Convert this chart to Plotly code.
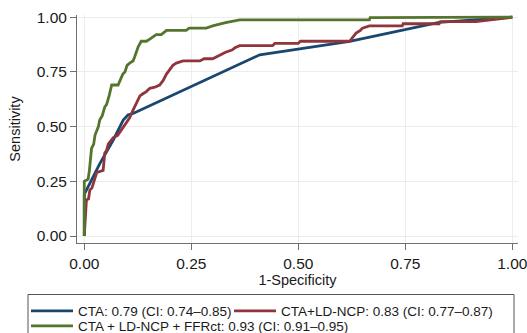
import plotly.graph_objects as go

# ---- data ----
cta_fpr = [0, 0, 0.036, 0.068, 0.091, 0.102, 0.114, 0.41, 0.62, 0.829, 1.0]
cta_tpr = [0, 0.19, 0.33, 0.44, 0.53, 0.553, 0.56, 0.828, 0.89, 0.976, 1.0]

ldncp_fpr = [0, 0.004, 0.005, 0.010, 0.013, 0.018, 0.021, 0.025, 0.029, 0.044, 0.046, 0.048,
             0.052, 0.056, 0.060, 0.068, 0.078, 0.087, 0.092, 0.099, 0.106, 0.114, 0.120,
             0.126, 0.130, 0.137, 0.145, 0.153, 0.165, 0.176, 0.184, 0.192, 0.200, 0.207,
             0.215, 0.231, 0.27, 0.28, 0.30, 0.31, 0.33, 0.345, 0.352, 0.363, 0.44, 0.445,
             0.50, 0.505, 0.62, 0.628, 0.635, 0.645, 0.65, 0.666, 0.743, 0.745, 0.829, 0.832,
             0.915, 1.0]
ldncp_tpr = [0, 0.12, 0.165, 0.17, 0.21, 0.22, 0.24, 0.26, 0.29, 0.30, 0.34, 0.38,
             0.39, 0.42, 0.43, 0.45, 0.46, 0.485, 0.50, 0.515, 0.54, 0.575, 0.60,
             0.62, 0.64, 0.65, 0.66, 0.675, 0.68, 0.69, 0.71, 0.74, 0.76, 0.78,
             0.79, 0.80, 0.80, 0.81, 0.81, 0.82, 0.84, 0.85, 0.86, 0.87, 0.87, 0.88,
             0.88, 0.89, 0.89, 0.91, 0.927, 0.94, 0.95, 0.96, 0.96, 0.97, 0.97, 0.98,
             0.98, 1.0]

ffr_fpr = [0, 0, 0.009, 0.012, 0.017, 0.022, 0.025, 0.029, 0.033, 0.036, 0.042, 0.048,
           0.052, 0.058, 0.064, 0.079, 0.083, 0.090, 0.095, 0.100, 0.106, 0.114, 0.118,
           0.126, 0.133, 0.145, 0.153, 0.160, 0.168, 0.180, 0.192, 0.238, 0.245, 0.285,
           0.30, 0.33, 0.345, 0.363, 0.666, 0.668, 1.0]
ffr_tpr = [0, 0.25, 0.26, 0.30, 0.40, 0.42, 0.46, 0.48, 0.50, 0.53, 0.55, 0.59,
           0.60, 0.64, 0.69, 0.69, 0.71, 0.74, 0.75, 0.78, 0.79, 0.80, 0.82,
           0.865, 0.89, 0.89, 0.90, 0.91, 0.92, 0.92, 0.94, 0.94, 0.95, 0.95,
           0.96, 0.975, 0.98, 0.988, 0.988, 0.998, 1.0]

series_names = [
    "CTA: 0.79 (CI: 0.74\u20130.85)",
    "CTA+LD-NCP: 0.83 (CI: 0.77\u20130.87)",
    "CTA + LD-NCP + FFRct: 0.93 (CI: 0.91\u20130.95)",
]
series_colors = ["#1a476f", "#90353b", "#55752f"]
series_legend = ["legend", "legend", "legend2"]
tick_vals = [0, 0.25, 0.5, 0.75, 1.0]
tick_text = ["0.00", "0.25", "0.50", "0.75", "1.00"]

FONT = "Liberation Sans, Arial, sans-serif"
W, H = 527, 333
ML, MR, MT, MB = 77, 9, 15, 90
PW, PH = W - ML - MR, H - MT - MB


def px_x(p):  # pixel -> paper x
    return (p - ML) / PW


def px_y(p):  # pixel -> paper y
    return (H - MB - p) / PH


fig = go.Figure()
data = [(cta_fpr, cta_tpr), (ldncp_fpr, ldncp_tpr), (ffr_fpr, ffr_tpr)]
legend_widths = [146, 215, 300]
for (xs, ys), name, col, lw, lg in zip(data, series_names, series_colors, legend_widths, series_legend):
    fig.add_trace(go.Scatter(x=xs, y=ys, mode="lines", name=name,
                             line=dict(color=col, width=2.8),
                             legendwidth=lw, legend=lg))

axis_common = dict(
    showline=True, linecolor="#707070", linewidth=1,
    ticks="outside", ticklen=6, tickcolor="#707070", tickwidth=1,
    showgrid=True, gridcolor="#ececec", gridwidth=1,
    zeroline=False, tickvals=tick_vals, ticktext=tick_text,
    tickfont=dict(family=FONT, size=15.5, color="#1a1a1a"),
    ticklabeloverflow="allow",
)

legend_common = dict(orientation="h", xanchor="left", yanchor="top",
                     borderwidth=0, bgcolor="rgba(0,0,0,0)",
                     font=dict(family=FONT, size=13.5, color="#1a1a1a"),
                     itemwidth=42, tracegroupgap=0)

fig.update_layout(
    width=W, height=H,
    margin=dict(l=ML, r=MR, t=MT, b=MB, autoexpand=False),
    paper_bgcolor="white", plot_bgcolor="white",
    font=dict(family=FONT, color="#1a1a1a"),
    xaxis=dict(range=[-0.017, 1.0133],
               title=dict(text="1-Specificity", font=dict(family=FONT, size=14.5), standoff=3),
               **axis_common),
    yaxis=dict(range=[-0.032, 1.01],
               title=dict(text="Sensitivity", font=dict(family=FONT, size=14.5), standoff=12),
               **axis_common),
    legend=dict(x=px_x(26), y=px_y(295.5), **legend_common),
    legend2=dict(x=px_x(26), y=px_y(310.5), **legend_common),
    showlegend=True,
    shapes=[dict(type="rect", xref="paper", yref="paper",
                 x0=px_x(28), x1=px_x(514), y0=px_y(294.5), y1=px_y(345),
                 line=dict(color="#555555", width=1), fillcolor="rgba(0,0,0,0)",
                 layer="below")],
)

fig.write_html("out.html", config={"displayModeBar": False},
               post_script="document.body.style.margin='0';document.body.style.overflow='hidden';")
